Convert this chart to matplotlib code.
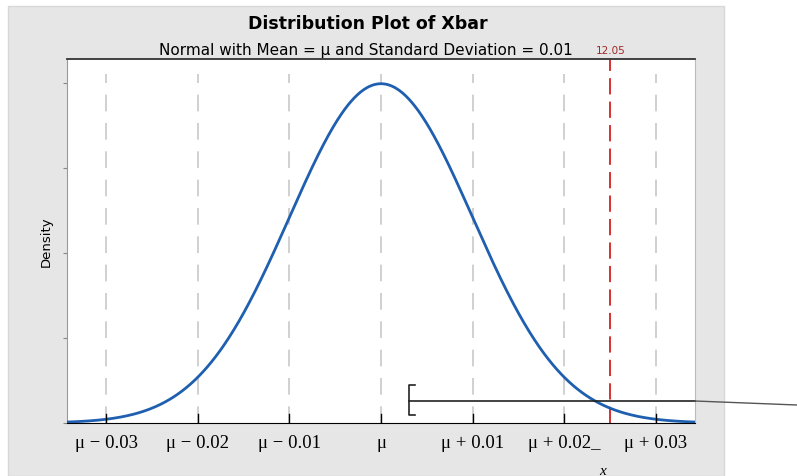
import matplotlib.pyplot as plt
import matplotlib.patches as mpatches
import numpy as np

# distribution parameters (mean shown as mu, offsets in units of x)
mean = 0.0
sd = 0.01
tick_offsets = [-0.03, -0.02, -0.01, 0.0, 0.01, 0.02, 0.03]
tick_labels = ['μ − 0.03', 'μ − 0.02', 'μ − 0.01', 'μ', 'μ + 0.01', 'μ + 0.02_', 'μ + 0.03']
xbar_offset = 0.025
xbar_value = '12.05'
density_ticks = [0, 10, 20, 30, 40]

x = np.linspace(-0.0345, 0.0345, 600)
y = np.exp(-0.5 * ((x - mean) / sd) ** 2) / (sd * np.sqrt(2 * np.pi))

fig = plt.figure(figsize=(7.97, 4.77), dpi=100)
fig.patch.set_facecolor('white')
# gray graph region
fig.patches.append(mpatches.Rectangle((8 / 797, 0), (724 - 8) / 797, (477 - 7) / 477,
                                      transform=fig.transFigure, facecolor='#e6e6e6',
                                      edgecolor='#d8d8d8', zorder=-5))

ax = fig.add_axes([67 / 797, 53 / 477, 628 / 797, 364 / 477])
ax.set_zorder(1)
ax.set_facecolor('white')
ax.set_xlim(-0.0343, 0.0343)
ax.set_ylim(0, 42.8)

for t in tick_offsets:
    ax.plot([t, t], [0, 41], color='#c8c8c8', lw=1.2, dashes=(10, 7), zorder=1)

ax.plot(x, y, color='#1f5fb0', lw=2.0, zorder=3)
ax.axvline(xbar_offset, color='#d42020', lw=1.3, dashes=(9, 4), zorder=2)

ax.set_xticks(tick_offsets)
ax.set_xticklabels(tick_labels, family='Liberation Serif', fontsize=13.5)
ax.set_yticks(density_ticks)
ax.set_yticklabels([])
ax.tick_params(axis='x', direction='out', length=0, pad=8)
ax.tick_params(axis='y', direction='out', length=3, color='#888888')
for t in tick_offsets:
    ax.plot([t, t], [0, 1.1], color='black', lw=1, zorder=4)

ax.spines['top'].set_color('#333333')
ax.spines['top'].set_linewidth(1.3)
ax.spines['bottom'].set_color('black')
ax.spines['left'].set_color('#999999')
ax.spines['right'].set_color('#bbbbbb')

ax.set_ylabel('Density', fontsize=9.5, labelpad=4)

fig.text(368 / 797, 1 - 24 / 477, 'Distribution Plot of Xbar', ha='center', va='center',
         fontsize=12.5, fontweight='bold', family='DejaVu Sans')
fig.text(366 / 797, 1 - 50 / 477, 'Normal with Mean = μ and Standard Deviation = 0.01',
         ha='center', va='center', fontsize=11, family='DejaVu Sans')
fig.text(611 / 797, 1 - 51 / 477, xbar_value, ha='center', va='center',
         fontsize=7.5, color='#a02828')
ax.text(xbar_offset - 0.0008, -0.13, 'x', transform=ax.get_xaxis_transform(),
        ha='center', va='center', fontsize=11, style='italic', family='Liberation Serif')

# bracket annotation running out past the graph
fig.lines.append(plt.Line2D([415 / 797, 409 / 797, 409 / 797, 415 / 797],
                            [1 - 386 / 477, 1 - 386 / 477, 1 - 416 / 477, 1 - 416 / 477],
                            transform=fig.transFigure, color='#222222', lw=1.2, zorder=5))
fig.lines.append(plt.Line2D([409 / 797, 695 / 797], [1 - 402 / 477, 1 - 402 / 477],
                            transform=fig.transFigure, color='#222222', lw=1.2, zorder=5))
fig.lines.append(plt.Line2D([695 / 797, 1.0], [1 - 402 / 477, 1 - 406 / 477],
                            transform=fig.transFigure, color='#555555', lw=1.0, zorder=5))

fig.savefig('out.png', dpi=100)
